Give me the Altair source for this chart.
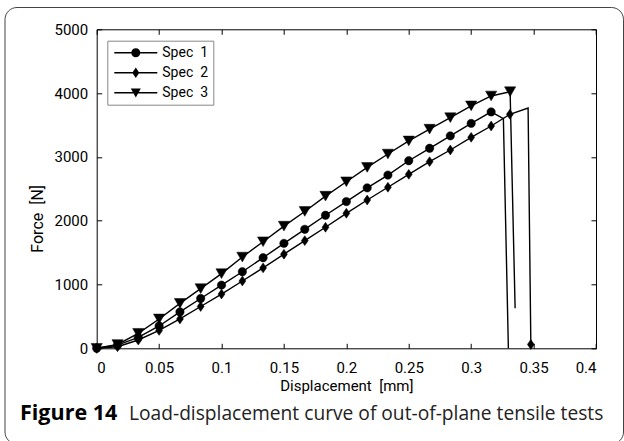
import altair as alt
import pandas as pd

# ---------------- data ----------------
series_names = ["Spec\u00a0\u00a01", "Spec\u00a0\u00a02", "Spec\u00a0\u00a03"]

marker_x = [0.0, 0.0167, 0.0333, 0.05, 0.0667, 0.0833, 0.1, 0.1167, 0.1333, 0.15,
            0.1667, 0.1833, 0.2, 0.2167, 0.2333, 0.25, 0.2667, 0.2833, 0.3, 0.3160]

spec1_y = [0, 50, 170, 350, 570, 780, 990, 1200, 1420, 1645,
           1865, 2085, 2300, 2515, 2715, 2940, 3135, 3330, 3525, 3705]
spec1_tail_x = [0.3258, 0.3298]
spec1_tail_y = [3600, 0]

spec2_y = [0, 25, 130, 280, 460, 655, 850, 1055, 1260, 1475,
           1687, 1897, 2116, 2324, 2524, 2727, 2925, 3108, 3307, 3484]
spec2_tail_x = [0.3310, 0.3456, 0.3478]
spec2_tail_y = [3668, 3766, 60]
spec2_tail_marker = [True, False, True]

spec3_y = [0, 60, 235, 460, 705, 935, 1170, 1430, 1670, 1915,
           2145, 2385, 2610, 2835, 3045, 3250, 3435, 3615, 3800, 3955]
spec3_tail_x = [0.3312, 0.3352]
spec3_tail_y = [4022, 627]
spec3_tail_marker = [True, False]

x_ticks = [0, 0.05, 0.1, 0.15, 0.2, 0.25, 0.3, 0.35, 0.4]
y_ticks = [0, 1000, 2000, 3000, 4000, 5000]

caption_bold = "Figure 14"
caption_text = "Load-displacement curve of out-of-plane tensile tests"
x_title = "Displacement\u00a0\u00a0[mm]"
y_title = "Force\u00a0\u00a0[N]"

# ---------------- table ----------------
rows = []
def add(name, xs, ys, marks):
    for xv, yv, m in zip(xs, ys, marks):
        rows.append({"series": name, "x": xv, "y": yv, "marker": m, "order": len(rows)})

add(series_names[0], marker_x + spec1_tail_x, spec1_y + spec1_tail_y,
    [True] * len(marker_x) + [False] * len(spec1_tail_x))
add(series_names[1], marker_x + spec2_tail_x, spec2_y + spec2_tail_y,
    [True] * len(marker_x) + spec2_tail_marker)
add(series_names[2], marker_x + spec3_tail_x, spec3_y + spec3_tail_y,
    [True] * len(marker_x) + spec3_tail_marker)
df = pd.DataFrame(rows)

FONT = "Roboto"
W, H = 499.3, 319
PAD_L, PAD_T = 96.7, 29.3

xscale = alt.Scale(domain=[0, 0.4], nice=False, zero=False)
yscale = alt.Scale(domain=[0, 5000], nice=False)

tick_common = dict(tickSize=5, offset=-5, domain=False, grid=False,
                   tickColor="black", tickWidth=1)

# border of the figure box
border = alt.Chart(pd.DataFrame({"a": [0]})).mark_rect(
    cornerRadius=12, fillOpacity=0, stroke="#444", strokeWidth=1
).encode(
    x=alt.value(5 - PAD_L), x2=alt.value(623.5 - PAD_L),
    y=alt.value(7.5 - PAD_T), y2=alt.value(444 - PAD_T)
)

lines = alt.Chart(df).mark_line(color="black", strokeWidth=1.4).encode(
    x=alt.X("x:Q", scale=xscale,
            axis=alt.Axis(orient="bottom", values=x_ticks, format="~g", title=x_title,
                          labelFont=FONT, labelFontSize=15, labelColor="black",
                          labelPadding=12, titleFont=FONT, titleFontSize=15,
                          titleFontWeight="normal", titleColor="black", titlePadding=3,
                          **tick_common)),
    y=alt.Y("y:Q", scale=yscale,
            axis=alt.Axis(orient="left", values=y_ticks, format="d", title=y_title,
                          labelFont=FONT, labelFontSize=15, labelColor="black",
                          labelPadding=9, titleFont=FONT, titleFontSize=16,
                          titleFontWeight="normal", titleColor="black",
                          titleX=-56, titleY=189, titleBaseline="bottom",
                          **tick_common)),
    detail="series:N",
    order="order:Q",
)

marker_paths = [
    "circle",
    "M0,-1L0.7,0L0,1L-0.7,0Z",
    "triangle-down",
]
points = alt.Chart(df).transform_filter("datum.marker").mark_point(
    filled=True, fill="black", stroke="black", strokeWidth=0.5, opacity=1
).encode(
    x=alt.X("x:Q", scale=xscale,
            axis=alt.Axis(orient="top", labels=False, title=None, values=x_ticks, **tick_common)),
    y=alt.Y("y:Q", scale=yscale,
            axis=alt.Axis(orient="right", labels=False, title=None, values=y_ticks, **tick_common)),
    shape=alt.Shape("series:N", scale=alt.Scale(domain=series_names, range=marker_paths), legend=None),
    size=alt.Size("series:N", scale=alt.Scale(domain=series_names, range=[70, 125, 110]), legend=None),
)

# legend symbols: a filled thin bar (the line) plus the marker, drawn at 5 px per unit
legend_paths = [
    "M-1,-0.14H7.6V0.14H-1ZM4.2,0A0.9,0.9 0 1,1 2.4,0A0.9,0.9 0 1,1 4.2,0Z",
    "M-1,-0.14H7.6V0.14H-1ZM3.3,-1.05L4.0,0L3.3,1.05L2.6,0Z",
    "M-1,-0.14H7.6V0.14H-1ZM2.3,-0.85L4.3,-0.85L3.3,0.95Z",
]
legend_layer = alt.Chart(df).transform_filter("datum.x < -1").mark_point(
    filled=True, fill="black", opacity=1
).encode(
    shape=alt.Shape("series:N",
                    scale=alt.Scale(domain=series_names, range=legend_paths),
                    legend=alt.Legend(title=None, orient="none", legendX=10.6, legendY=11.4,
                                      strokeColor="#888", fillColor="white", padding=5,
                                      symbolSize=100, symbolFillColor="black",
                                      symbolStrokeWidth=0,
                                      labelFont=FONT, labelFontSize=14, labelColor="black",
                                      labelOffset=36, rowPadding=6, cornerRadius=0)),
)

cap1 = alt.Chart(pd.DataFrame({"t": [caption_bold]})).mark_text(
    align="left", baseline="middle", font="Open Sans", fontSize=21.5, fontWeight="bold", color="black"
).encode(x=alt.value(20 - PAD_L), y=alt.value(414 - PAD_T), text="t:N")

cap2 = alt.Chart(pd.DataFrame({"t": [caption_text]})).mark_text(
    align="left", baseline="middle", font="Open Sans", fontSize=19.2, color="#222"
).encode(x=alt.value(129 - PAD_L), y=alt.value(414 - PAD_T), text="t:N")

chart = alt.layer(border, lines, points, legend_layer, cap1, cap2).resolve_scale(
    shape="independent", size="independent"
).resolve_axis(
    x="independent", y="independent"
).resolve_legend(
    shape="independent", size="independent"
).properties(
    width=W, height=H,
    autosize=alt.AutoSizeParams(type="none"),
    padding={"left": PAD_L, "top": PAD_T, "right": 624 - PAD_L - W, "bottom": 441 - PAD_T - H},
    background="white",
).configure_view(stroke="black", strokeWidth=1)

chart.save("out.html", embed_options={"renderer": "svg", "actions": False})
